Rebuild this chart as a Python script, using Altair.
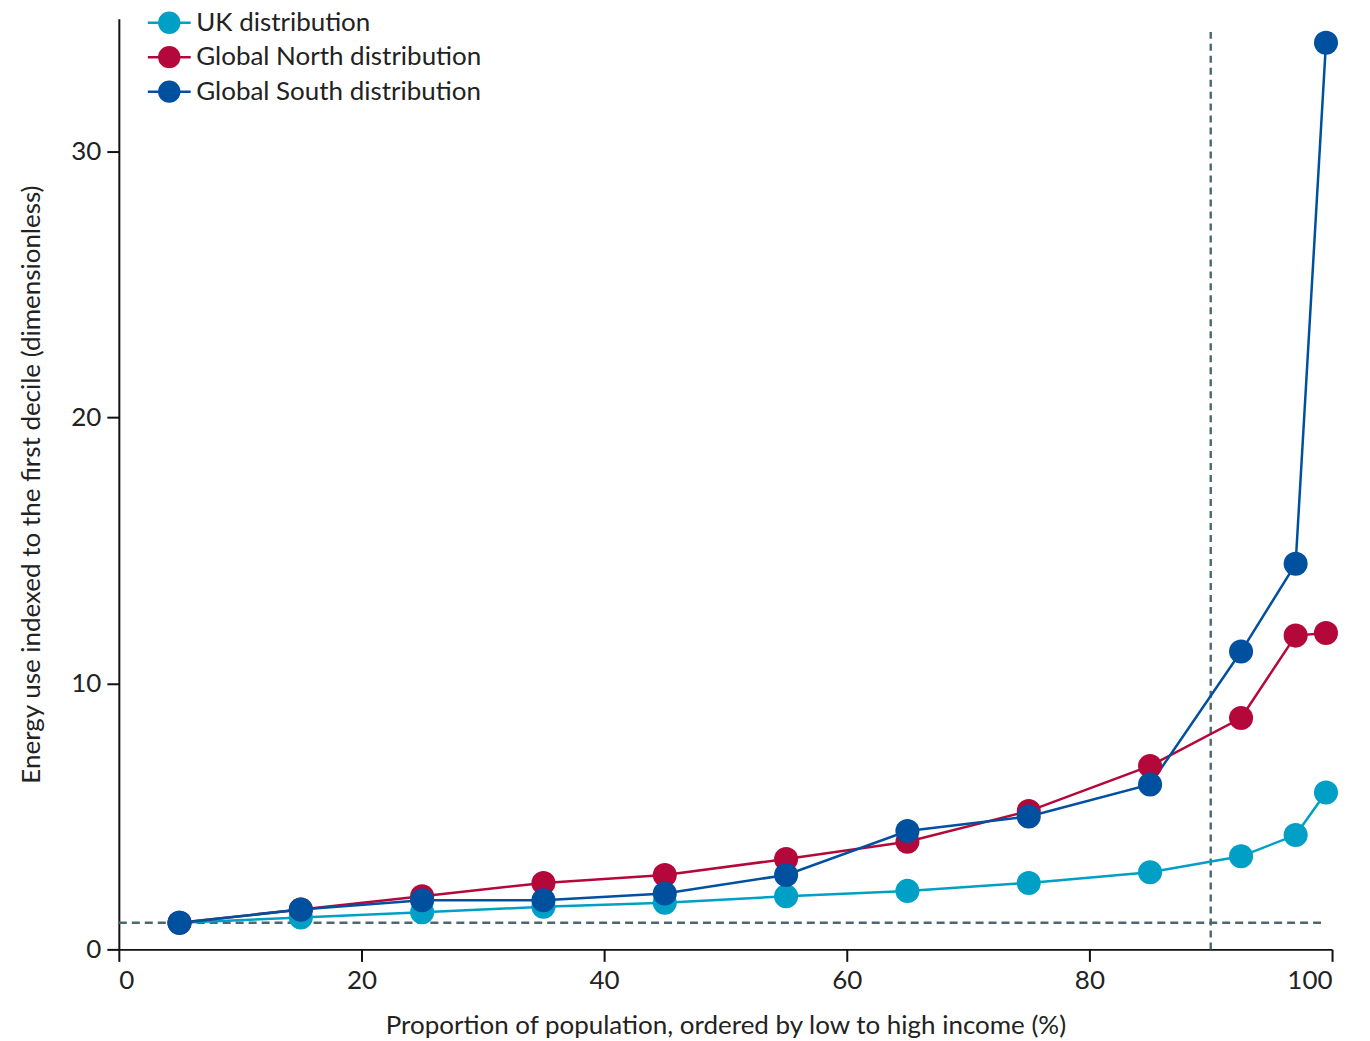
import altair as alt
import pandas as pd

pct = [5, 15, 25, 35, 45, 55, 65, 75, 85, 92.5, 97, 99.5]
uk = [1.0, 1.2, 1.4, 1.6, 1.75, 2.0, 2.2, 2.5, 2.9, 3.5, 4.3, 5.9]
gn = [1.0, 1.5, 2.0, 2.5, 2.8, 3.4, 4.05, 5.2, 6.9, 8.7, 11.8, 11.9]
gs = [1.0, 1.5, 1.85, 1.85, 2.1, 2.8, 4.45, 5.0, 6.2, 11.2, 14.5, 34.1]
series = ["UK distribution", "Global North distribution", "Global South distribution"]
colors = ["#00a0c6", "#b5083a", "#0050a0"]

rows = []
for name, vals in zip(series, [uk, gn, gs]):
    for i, (p, v) in enumerate(zip(pct, vals)):
        rows.append({"pct": p, "value": v, "series": name, "order": i})
df = pd.DataFrame(rows)

hline = pd.DataFrame({"x": [0], "x2": [99.4], "y": [1]})
vline = pd.DataFrame({"x": [90], "y": [0], "y2": [34.5]})

FONT = "Lato"
ref_color = "#4d6670"

xscale = alt.Scale(domain=[0, 100], nice=False)
yscale = alt.Scale(domain=[0, 35], nice=False)

legend_path = ("M-1.21,0 L1.21,0 M-0.56,0 A0.56,0.56 0 1,1 0.56,0 "
               "A0.56,0.56 0 1,1 -0.56,0 Z")

h = alt.Chart(hline).mark_rule(color=ref_color, strokeWidth=2.4, strokeDash=[8, 5]).encode(
    x=alt.X("x:Q", scale=xscale), x2="x2:Q", y=alt.Y("y:Q", scale=yscale)
)
v = alt.Chart(vline).mark_rule(color=ref_color, strokeWidth=2.4, strokeDash=[7, 5]).encode(
    x=alt.X("x:Q", scale=xscale), y=alt.Y("y:Q", scale=yscale), y2="y2:Q"
)

lines = alt.Chart(df).mark_line(
    strokeWidth=2.5,
    point=alt.OverlayMarkDef(size=580, filled=True, opacity=1),
).encode(
    x=alt.X("pct:Q", scale=xscale,
            axis=alt.Axis(values=[0, 20, 40, 60, 80, 100], title="Proportion of population, ordered by low to high income (%)")),
    y=alt.Y("value:Q", scale=yscale,
            axis=alt.Axis(values=[0, 10, 20, 30], title="Energy use indexed to the first decile (dimensionless)")),
    color=alt.Color("series:N", scale=alt.Scale(domain=series, range=colors), sort=series,
                    legend=alt.Legend(title=None, orient="none", legendX=31.5, legendY=-15,
                                      symbolType=legend_path, symbolSize=1260,
                                      symbolStrokeWidth=2.5, labelFont=FONT, labelFontSize=26,
                                      labelColor="#222222", labelOffset=8, rowPadding=0.5,
                                      labelLimit=0, symbolOpacity=1)),
    order="order:Q",
)

chart = alt.layer(h, v, lines).properties(
    width=1215, height=932,
    autosize=alt.AutoSizeParams(type="none"),
    padding={"left": 111, "top": 10, "right": 30, "bottom": 95},
).configure_view(stroke=None).configure_axis(
    domainColor="#111111", domainWidth=2, tickColor="#111111", tickWidth=2, tickSize=12,
    labelFont=FONT, labelFontSize=26, labelColor="#222222", labelPadding=6,
    titleFont=FONT, titleFontSize=26, titleFontWeight="normal", titleColor="#222222",
    grid=False,
).configure_axisX(titlePadding=19).configure_axisY(titlePadding=26)

chart.save("out.html", embed_options={"renderer": "svg", "actions": False})
